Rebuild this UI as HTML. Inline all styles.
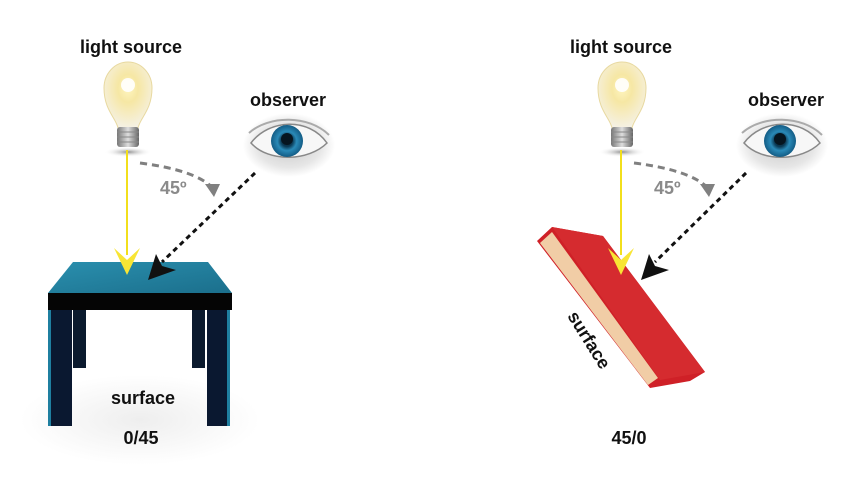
<!DOCTYPE html>
<html><head><meta charset="utf-8"><style>
html,body{margin:0;padding:0;background:#fff;width:848px;height:494px;overflow:hidden}
text{font-family:"Liberation Sans",sans-serif;font-weight:bold}
</style></head><body>
<svg width="848" height="494" viewBox="0 0 848 494" xmlns="http://www.w3.org/2000/svg">
<defs>
<radialGradient id="glow" cx="0.5" cy="0.4" r="0.6">
<stop offset="0" stop-color="#fff6c0"/><stop offset="0.35" stop-color="#f6e7a4"/><stop offset="1" stop-color="#f5f1e4"/>
</radialGradient>
<linearGradient id="base" x1="0" x2="1"><stop offset="0" stop-color="#777"/><stop offset="0.5" stop-color="#ddd"/><stop offset="1" stop-color="#666"/></linearGradient>
<radialGradient id="iris" cx="0.5" cy="0.5" r="0.5"><stop offset="0" stop-color="#0b2433"/><stop offset="0.35" stop-color="#0b3a55"/><stop offset="0.6" stop-color="#2a8ab8"/><stop offset="1" stop-color="#135c85"/></radialGradient>
<radialGradient id="eyesh" cx="0.5" cy="0.5" r="0.5"><stop offset="0" stop-color="#c8c8c8"/><stop offset="0.7" stop-color="#e6e6e6"/><stop offset="1" stop-color="#fff"/></radialGradient>
<linearGradient id="top" x1="0" y1="0" x2="1" y2="1"><stop offset="0" stop-color="#2a8fae"/><stop offset="1" stop-color="#1b6f8c"/></linearGradient>
<radialGradient id="shadow" cx="0.5" cy="0.5" r="0.5"><stop offset="0" stop-color="#444" stop-opacity="0.6"/><stop offset="1" stop-color="#fff" stop-opacity="0"/></radialGradient>
<radialGradient id="floor" cx="0.5" cy="0.5" r="0.5"><stop offset="0" stop-color="#eee"/><stop offset="1" stop-color="#fff"/></radialGradient>
<g id="bulb">
<ellipse cx="0" cy="152" rx="24" ry="5" fill="url(#shadow)"/>
<path d="M-10,128 C-12,118 -24,110 -24,88 A24,26 0 0 1 24,88 C24,110 12,118 10,128 Z" fill="url(#glow)" stroke="#e8d9a0" stroke-width="1"/>
<circle cx="0" cy="85" r="7" fill="#fff" opacity="0.9"/>
<rect x="-11" y="127" width="22" height="20" rx="3" fill="url(#base)"/>
<line x1="-11" y1="132" x2="11" y2="132" stroke="#888"/><line x1="-11" y1="137" x2="11" y2="137" stroke="#888"/><line x1="-11" y1="142" x2="11" y2="142" stroke="#888"/>
</g>
<g id="eye">
<ellipse cx="0" cy="4" rx="46" ry="32" fill="url(#eyesh)"/>
<path d="M-38,2 C-20,-22 20,-24 38,2 C20,20 -20,22 -38,2 Z" fill="#f7f7f7" stroke="#888" stroke-width="1.5"/>
<circle cx="-2" cy="0" r="16" fill="url(#iris)"/>
<circle cx="-2" cy="-2" r="6" fill="#061520"/>
<path d="M-40,-8 C-20,-26 20,-26 40,-6" fill="none" stroke="#aaa" stroke-width="2"/>
</g>
</defs>

<!-- LEFT -->
<text x="131" y="53" font-size="18" text-anchor="middle" fill="#111">light source</text>
<use href="#bulb" x="128" y="0"/>
<text x="288" y="106" font-size="18" text-anchor="middle" fill="#111">observer</text>
<use href="#eye" x="289" y="141"/>
<!-- table -->
<ellipse cx="140" cy="420" rx="120" ry="45" fill="url(#floor)"/>
<polygon points="73,262 208,262 232,293 48,293" fill="url(#top)"/>
<rect x="48" y="293" width="184" height="17" fill="#050505"/>
<rect x="73" y="310" width="13" height="58" fill="#0b1a2e"/>
<rect x="192" y="310" width="13" height="58" fill="#0b1a2e"/>
<rect x="48" y="310" width="24" height="116" fill="#0a1830"/>
<rect x="48" y="310" width="3" height="116" fill="#1f7fa0"/>
<rect x="207" y="310" width="23" height="116" fill="#0a1830"/>
<rect x="227" y="310" width="3" height="116" fill="#1f7fa0"/>
<line x1="127" y1="150" x2="127" y2="255" stroke="#f2df1c" stroke-width="2"/>
<polygon points="114,248 127,260 140,248 127,275" fill="#f8e534"/>
<path d="M140,163 Q195,170 213,188" fill="none" stroke="#808080" stroke-width="3" stroke-dasharray="7,5"/>
<polygon points="205,184 220,184 214,197" fill="#808080"/>
<text x="160" y="194" font-size="18" fill="#8a8a8a">45º</text>
<line x1="255" y1="173" x2="162" y2="262" stroke="#111" stroke-width="3" stroke-dasharray="5,4"/>
<polygon points="148,280 156,254 162,266 176,270" fill="#111"/>
<text x="143" y="404" font-size="18" text-anchor="middle" fill="#111">surface</text>
<text x="141" y="444" font-size="18" text-anchor="middle" fill="#111">0/45</text>

<!-- RIGHT -->
<text x="621" y="53" font-size="18" text-anchor="middle" fill="#111">light source</text>
<use href="#bulb" x="622" y="0"/>
<text x="786" y="106" font-size="18" text-anchor="middle" fill="#111">observer</text>
<use href="#eye" x="782" y="141"/>
<!-- book -->
<polygon points="537,241 552,227 603,236 705,372 690,381 650,388" fill="#cf2027"/>
<polygon points="540,243 552,232 658,378 648,385" fill="#f1cda6"/>
<polygon points="552,227 603,236 705,372 660,380" fill="#d52b2f"/>
<line x1="621" y1="150" x2="621" y2="255" stroke="#f2df1c" stroke-width="2"/>
<polygon points="608,248 621,260 634,248 621,275" fill="#f8e534"/>
<path d="M634,163 Q690,170 708,188" fill="none" stroke="#808080" stroke-width="3" stroke-dasharray="7,5"/>
<polygon points="700,184 715,184 709,197" fill="#808080"/>
<text x="654" y="194" font-size="18" fill="#8a8a8a">45º</text>
<line x1="746" y1="173" x2="655" y2="262" stroke="#111" stroke-width="3" stroke-dasharray="5,4"/>
<polygon points="641,280 649,254 655,266 669,270" fill="#111"/>
<text x="0" y="0" font-size="18" fill="#111" transform="translate(567,316) rotate(58)">surface</text>
<text x="629" y="444" font-size="18" text-anchor="middle" fill="#111">45/0</text>
</svg>
</body></html>
